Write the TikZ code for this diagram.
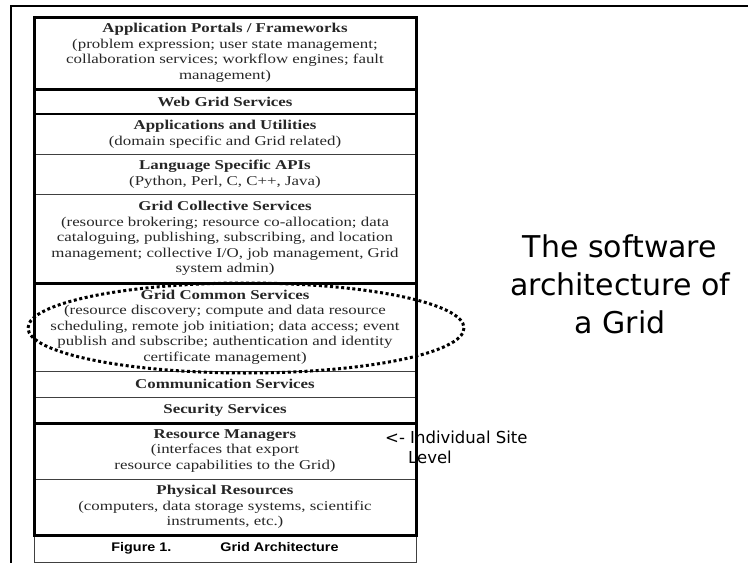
\documentclass[tikz,border=0pt]{standalone}
\usepackage{fontspec}
\usepackage{tikz}
\usetikzlibrary{positioning}
\newfontfamily\layerfont{Liberation Serif}[FakeStretch=1.25]
\newfontfamily\capfont{Liberation Sans}[FakeStretch=1.15]
\newfontfamily\slidefont{DejaVu Sans}

\tikzset{
  layer/.style={minimum width=382pt, inner sep=0pt, outer sep=0pt, align=center,
    text=black!85, font=\layerfont\fontsize{13.5pt}{15.5pt}\selectfont},
  thickrule/.style={line width=3pt},
  thinrule/.style={line width=1pt, black!75}
}

\begin{document}
\begin{tikzpicture}[x=1pt,y=-1pt]
\useasboundingbox (0,0) rectangle (748,563);
\draw [line width=2.5pt] (748,6) -- (11,6) -- (11,563);

\node [layer, minimum height=72pt] (portals) at (225,53) {\textbf{Application Portals / Frameworks}\\(problem expression; user state management;\\collaboration services; workflow engines; fault\\management)};
\node [layer, minimum height=25pt, below=0pt of portals] (web) {\textbf{Web Grid Services}};
\node [layer, minimum height=40pt, below=0pt of web] (apps) {\textbf{Applications and Utilities}\\(domain specific and Grid related)};
\node [layer, minimum height=40pt, below=0pt of apps] (apis) {\textbf{Language Specific APIs}\\(Python, Perl, C, C++, Java)};
\node [layer, minimum height=89pt, below=0pt of apis] (collective) {\textbf{Grid Collective Services}\\(resource brokering; resource co-allocation; data\\cataloguing, publishing, subscribing, and location\\management; collective I/O, job management, Grid\\system admin)};
\node [layer, minimum height=88pt, below=0pt of collective] (common) {\textbf{Grid Common Services}\\(resource discovery; compute and data resource\\scheduling, remote job initiation; data access; event\\publish and subscribe; authentication and identity\\certificate management)};
\node [layer, minimum height=26pt, below=0pt of common] (comm) {\textbf{Communication Services}};
\node [layer, minimum height=26pt, below=0pt of comm] (security) {\textbf{Security Services}};
\node [layer, minimum height=56pt, below=0pt of security] (managers) {\textbf{Resource Managers}\\(interfaces that export\\resource capabilities to the Grid)};
\node [layer, minimum height=56pt, below=0pt of managers] (physical) {\textbf{Physical Resources}\\(computers, data storage systems, scientific\\instruments, etc.)};
\node [layer, minimum height=27pt, below=0pt of physical, draw, thinrule, text=black, font=\capfont\bfseries\fontsize{12.5pt}{14pt}\selectfont] (figcap) {Figure 1.\hspace{49pt}Grid Architecture};

\draw [thickrule] (portals.south west) -- (portals.south east);
\draw [line width=1.5pt] (web.south west) -- (web.south east);
\draw [thinrule] (apps.south west) -- (apps.south east);
\draw [thinrule] (apis.south west) -- (apis.south east);
\draw [thickrule] (collective.south west) -- (collective.south east);
\draw [thinrule] (common.south west) -- (common.south east);
\draw [thinrule] (comm.south west) -- (comm.south east);
\draw [thickrule] (security.south west) -- (security.south east);
\draw [thinrule] (managers.south west) -- (managers.south east);
\draw [thickrule] (portals.north west) rectangle (physical.south east);

\draw [line width=3pt, dash pattern=on 3pt off 2.6pt] (246,328) ellipse [x radius=218, y radius=45];

\node [font=\slidefont\fontsize{30pt}{38pt}\selectfont, align=center] (slidetitle) at (620,284) {The software\\architecture of\\a Grid};
\node [font=\slidefont\fontsize{16.5pt}{20pt}\selectfont, align=left, anchor=west, inner sep=0pt] (site) at (385,447) {<- Individual Site\\\hspace*{23pt}Level};
\end{tikzpicture}
\end{document}
